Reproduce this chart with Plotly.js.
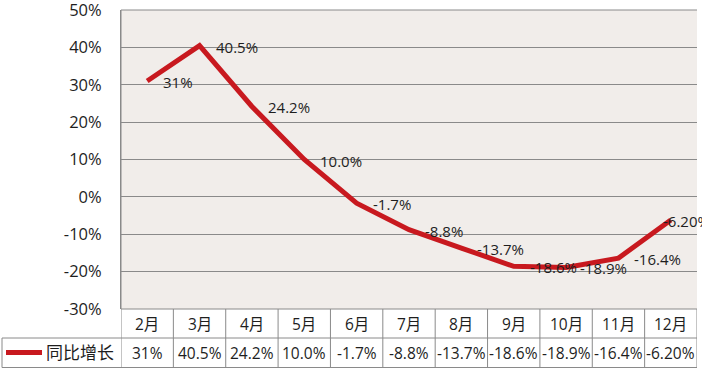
<!DOCTYPE html>
<html>
<head>
<meta charset="utf-8">
<script src="https://cdn.plot.ly/plotly-3.0.1.min.js"></script>
<style>html,body{margin:0;padding:0;background:#fff;}#chart{width:702px;height:370px;}</style>
</head>
<body>
<div id="chart"></div>
<script>
const months = ["2月","3月","4月","5月","6月","7月","8月","9月","10月","11月","12月"];
const growth = [31, 40.5, 24.2, 10.0, -1.7, -8.8, -13.7, -18.6, -18.9, -16.4, -6.2];
const growthLabels = ["31%","40.5%","24.2%","10.0%","-1.7%","-8.8%","-13.7%","-18.6%","-18.9%","-16.4%","-6.20%"];
const seriesName = "同比增长";
const yTickValues = [50, 40, 30, 20, 10, 0, -10, -20, -30];
const yTickLabels = ["50%","40%","30%","20%","10%","0%","-10%","-20%","-30%"];

const W = 702, H = 370;
const M = {l: 121, r: 5, t: 10, b: 61};
const pw = W - M.l - M.r, ph = H - M.t - M.b;
const px = x => (x - M.l) / pw;
const py = y => (H - M.b - y) / ph;

const FONT = "Open Sans, Noto Sans CJK SC, sans-serif";
const RED = "#c8191f";
const GRID = "#8a8a8a";
const TXT = "#1e1e1e";

const rowLine = 338, tableBottom = 367.5, tableLeft = 2;
const row1 = 323.5, row2 = 352.5;

const shapes = [];
shapes.push({type:"line", xref:"paper", yref:"paper", x0:px(tableLeft), x1:1, y0:py(rowLine), y1:py(rowLine), line:{color:GRID, width:1}});
shapes.push({type:"line", xref:"paper", yref:"paper", x0:px(tableLeft), x1:1, y0:py(tableBottom), y1:py(tableBottom), line:{color:GRID, width:1}});
shapes.push({type:"line", xref:"paper", yref:"paper", x0:0, x1:1, y0:0, y1:0, line:{color:GRID, width:1}});
shapes.push({type:"line", xref:"paper", yref:"paper", x0:0, x1:1, y0:1, y1:1, line:{color:GRID, width:1}});
shapes.push({type:"line", xref:"paper", yref:"paper", x0:px(tableLeft), x1:px(tableLeft), y0:py(rowLine), y1:py(tableBottom), line:{color:GRID, width:1}});
for (let i = 0; i <= months.length; i++) {
  shapes.push({type:"line", xref:"x", yref:"paper", x0:i-0.5, x1:i-0.5, y0:i===0?1:0, y1:py(tableBottom), line:{color:GRID, width:1}});
}
shapes.push({type:"line", xref:"paper", yref:"paper", x0:px(6), x1:px(42), y0:py(row2), y1:py(row2), line:{color:RED, width:5}});

const annotations = [];
months.forEach((m, i) => {
  annotations.push({xref:"x", yref:"paper", x:i, y:py(row1), text:m, showarrow:false, xanchor:"center", yanchor:"middle", font:{family:FONT, size:15.5, color:TXT}});
  annotations.push({xref:"x", yref:"paper", x:i, y:py(row2), text:growthLabels[i], showarrow:false, xanchor:"center", yanchor:"middle", font:{family:FONT, size:15.5, color:TXT}});
  const last = i === months.length - 1;
  annotations.push({xref:"x", yref:"y", x:i, y:growth[i], text:growthLabels[i], showarrow:false, xanchor:"left", yanchor:"middle", xshift: last ? -10 : (i===8 ? 12 : 14), yshift:-1, font:{family:FONT, size:15, color:TXT}});
});
annotations.push({xref:"paper", yref:"paper", x:px(44), y:py(row2), text:seriesName, showarrow:false, xanchor:"left", yanchor:"middle", font:{family:FONT, size:17, color:TXT}});

const trace = {
  type:"scatter", mode:"lines", x:months, y:growth, name:seriesName,
  line:{color:RED, width:5}, cliponaxis:false, hoverinfo:"skip"
};

const layout = {
  width:W, height:H,
  margin:{l:M.l, r:M.r, t:M.t, b:M.b, pad:0, autoexpand:false},
  paper_bgcolor:"#ffffff", plot_bgcolor:"#f1edea",
  showlegend:false,
  xaxis:{type:"category", range:[-0.5, months.length-0.5], showticklabels:false, showgrid:false, zeroline:false, ticks:"", showline:false, fixedrange:true},
  yaxis:{range:[-30.02, 50.02], tickmode:"array", tickvals:yTickValues, ticktext:yTickLabels, ticklabeloverflow:"allow", showgrid:true, gridcolor:GRID, gridwidth:1, zeroline:false, showline:true, linecolor:GRID, linewidth:1, ticks:"", ticklabelstandoff:15, tickfont:{family:FONT, size:16.5, color:TXT}, fixedrange:true},
  shapes:shapes, annotations:annotations
};

Plotly.newPlot("chart", [trace], layout, {staticPlot:true, displayModeBar:false});
</script>
</body>
</html>
